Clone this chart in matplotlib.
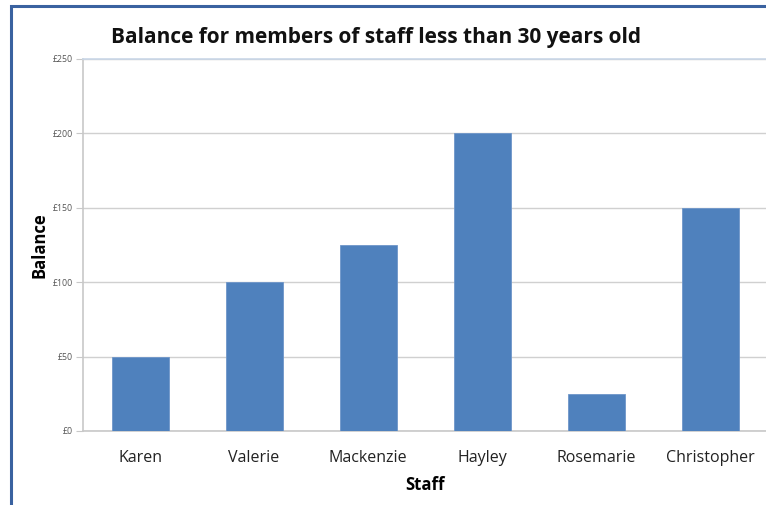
import matplotlib.pyplot as plt
from matplotlib.patches import Rectangle
from matplotlib.ticker import FuncFormatter

staff = ['Karen', 'Valerie', 'Mackenzie', 'Hayley', 'Rosemarie', 'Christopher']
balance = [50, 100, 125, 200, 25, 150]
y_ticks = [0, 50, 100, 150, 200, 250]

W, H = 766, 505
fig = plt.figure(figsize=(W / 100, H / 100), dpi=100)
plt.rcParams['font.family'] = ['Open Sans', 'DejaVu Sans']

# plot area in pixels: left 83, right 767, top 59, bottom 431
ax = fig.add_axes([83 / W, 1 - 431 / H, (767 - 83) / W, (431 - 59) / H])

x = range(len(staff))
ax.bar(x, balance, width=0.5, color='#4F81BD', edgecolor='#6E96C9', linewidth=0.6, zorder=3)

ax.set_xlim(-0.5, len(staff) - 0.5)
ax.set_ylim(0, 250)
ax.set_yticks(y_ticks)
ax.yaxis.set_major_formatter(FuncFormatter(lambda v, p: '£%d' % v))
ax.set_xticks(list(x))
ax.set_xticklabels(staff, fontsize=11.5, color='#222222')

ax.grid(axis='y', color='#D0D0D0', linewidth=1, zorder=0)
ax.tick_params(axis='y', labelsize=6.3, labelcolor='#555555', length=5, color='#C8C8C8', pad=2)
ax.tick_params(axis='x', length=0, pad=14)

for s in ['right']:
    ax.spines[s].set_visible(False)
# top line looks light blue in the original
ax.spines['top'].set_color('#C9D7E8')
ax.spines['left'].set_color('#C8C8C8')
ax.spines['bottom'].set_color('#C8C8C8')
ax.spines['left'].set_linewidth(1.2)
ax.spines['bottom'].set_linewidth(1.2)
ax.spines['top'].set_linewidth(1.2)

ax.set_ylabel('Balance', fontsize=12, fontweight='bold', labelpad=3)
ax.set_xlabel('Staff', fontsize=12, fontweight='bold', labelpad=7)

fig.text(376 / W, 1 - 37 / H, 'Balance for members of staff less than 30 years old',
         ha='center', va='center', fontsize=15, fontweight='bold', color='#111111')

# blue frame, cut off on the right and bottom
fig.patches.append(Rectangle((11 / W, -0.1), 1.2, 1 - 6 / H + 0.1, transform=fig.transFigure,
                             fill=False, edgecolor='#3A62A0', linewidth=2.2, zorder=10))

fig.savefig('out.png', dpi=100)
